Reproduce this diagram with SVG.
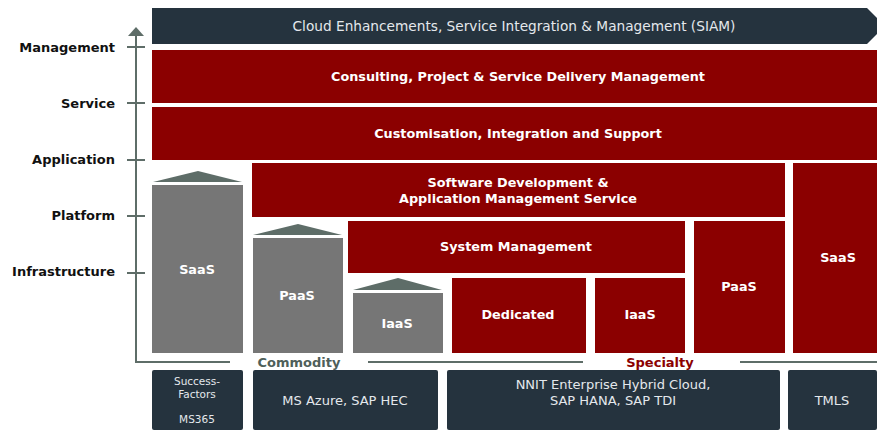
<svg xmlns="http://www.w3.org/2000/svg" width="877" height="431" viewBox="0 0 877 431">
<style>
text{font-family:"DejaVu Sans","Verdana",sans-serif}
.ax{font-size:13px;font-weight:bold;fill:#111;text-anchor:end}
.red{fill:#8B0000}
.gray{fill:#767676}
.roof{fill:#5E6D68}
.dark{fill:#25333E}
.wt{fill:#fff;font-weight:bold;font-size:12.8px;text-anchor:middle}
.lt{fill:#E4E8EC;font-size:13px;text-anchor:middle}
.sm{font-size:10.5px}
.big{font-size:13.7px}
.axis{stroke:#5E6D68;stroke-width:2;fill:none}
</style>
<rect width="877" height="431" fill="#fff"/>
<g id="axis">
<path class="axis" d="M136 34V362H230M368 362H583M740 362H877"/>
<polygon points="136,27 128,36 144,36" fill="#5E6D68"/>
<path class="axis" d="M127 47H145M127 103H145M127 160H145M127 216H145M127 273H145"/>
<text class="ax" x="115" y="52">Management</text>
<text class="ax" x="115" y="108">Service</text>
<text class="ax" x="115" y="164">Application</text>
<text class="ax" x="115" y="220">Platform</text>
<text class="ax" x="115" y="276">Infrastructure</text>
<text x="299" y="367" text-anchor="middle" font-size="13" font-weight="bold" fill="#4F5F5A">Commodity</text>
<text x="660" y="367" text-anchor="middle" font-size="13" font-weight="bold" fill="#8B0000">Specialty</text>
</g>
<g id="siam">
<polygon class="dark" points="152,8 867,8 877,18 877,34 867,44 152,44"/>
<text class="lt big" x="514" y="31">Cloud Enhancements, Service Integration &amp; Management (SIAM)</text>
</g>
<g id="consulting">
<rect class="red" x="152" y="50" width="725" height="53"/>
<text class="wt" x="518" y="81">Consulting, Project &amp; Service Delivery Management</text>
</g>
<g id="customisation">
<rect class="red" x="152" y="107" width="725" height="53"/>
<text class="wt" x="518" y="138">Customisation, Integration and Support</text>
</g>
<g id="gsaas">
<polygon class="roof" points="153,182 198,171 242,182"/>
<rect class="gray" x="152" y="185" width="91" height="168"/>
<text class="wt" x="197" y="274">SaaS</text>
</g>
<g id="gpaas">
<polygon class="roof" points="253,235 298,224 342,235"/>
<rect class="gray" x="253" y="238" width="90" height="115"/>
<text class="wt" x="297" y="300">PaaS</text>
</g>
<g id="giaas">
<polygon class="roof" points="353,290 398,278 442,290"/>
<rect class="gray" x="353" y="293" width="90" height="60"/>
<text class="wt" x="397" y="328">IaaS</text>
</g>
<g id="swdev">
<rect class="red" x="252" y="163" width="533" height="54"/>
<text class="wt" x="518" y="187">Software Development &amp;</text>
<text class="wt" x="518" y="203">Application Management Service</text>
</g>
<g id="sysmgmt">
<rect class="red" x="348" y="221" width="337" height="52"/>
<text class="wt" x="516" y="251">System Management</text>
</g>
<g id="dedicated">
<rect class="red" x="452" y="278" width="134" height="75"/>
<text class="wt" x="518" y="319">Dedicated</text>
</g>
<g id="riaas">
<rect class="red" x="595" y="278" width="90" height="75"/>
<text class="wt" x="640" y="319">IaaS</text>
</g>
<g id="rpaas">
<rect class="red" x="694" y="221" width="91" height="132"/>
<text class="wt" x="739" y="291">PaaS</text>
</g>
<g id="rsaas">
<rect class="red" x="793" y="163" width="84" height="190"/>
<text class="wt" x="838" y="262">SaaS</text>
</g>
<g id="b1">
<rect class="dark" x="152" y="370" width="91" height="60" rx="2"/>
<text class="lt sm" x="197" y="385">Success-</text>
<text class="lt sm" x="197" y="398">Factors</text>
<text class="lt sm" x="197" y="423">MS365</text>
</g>
<g id="b2">
<rect class="dark" x="253" y="370" width="185" height="60" rx="2"/>
<text class="lt" x="345" y="405">MS Azure, SAP HEC</text>
</g>
<g id="b3">
<rect class="dark" x="447" y="370" width="333" height="60" rx="2"/>
<text class="lt" x="613" y="389">NNIT Enterprise Hybrid Cloud,</text>
<text class="lt" x="613" y="405">SAP HANA, SAP TDI</text>
</g>
<g id="b4">
<rect class="dark" x="788" y="370" width="89" height="60" rx="2"/>
<text class="lt" x="832" y="405">TMLS</text>
</g>
</svg>
